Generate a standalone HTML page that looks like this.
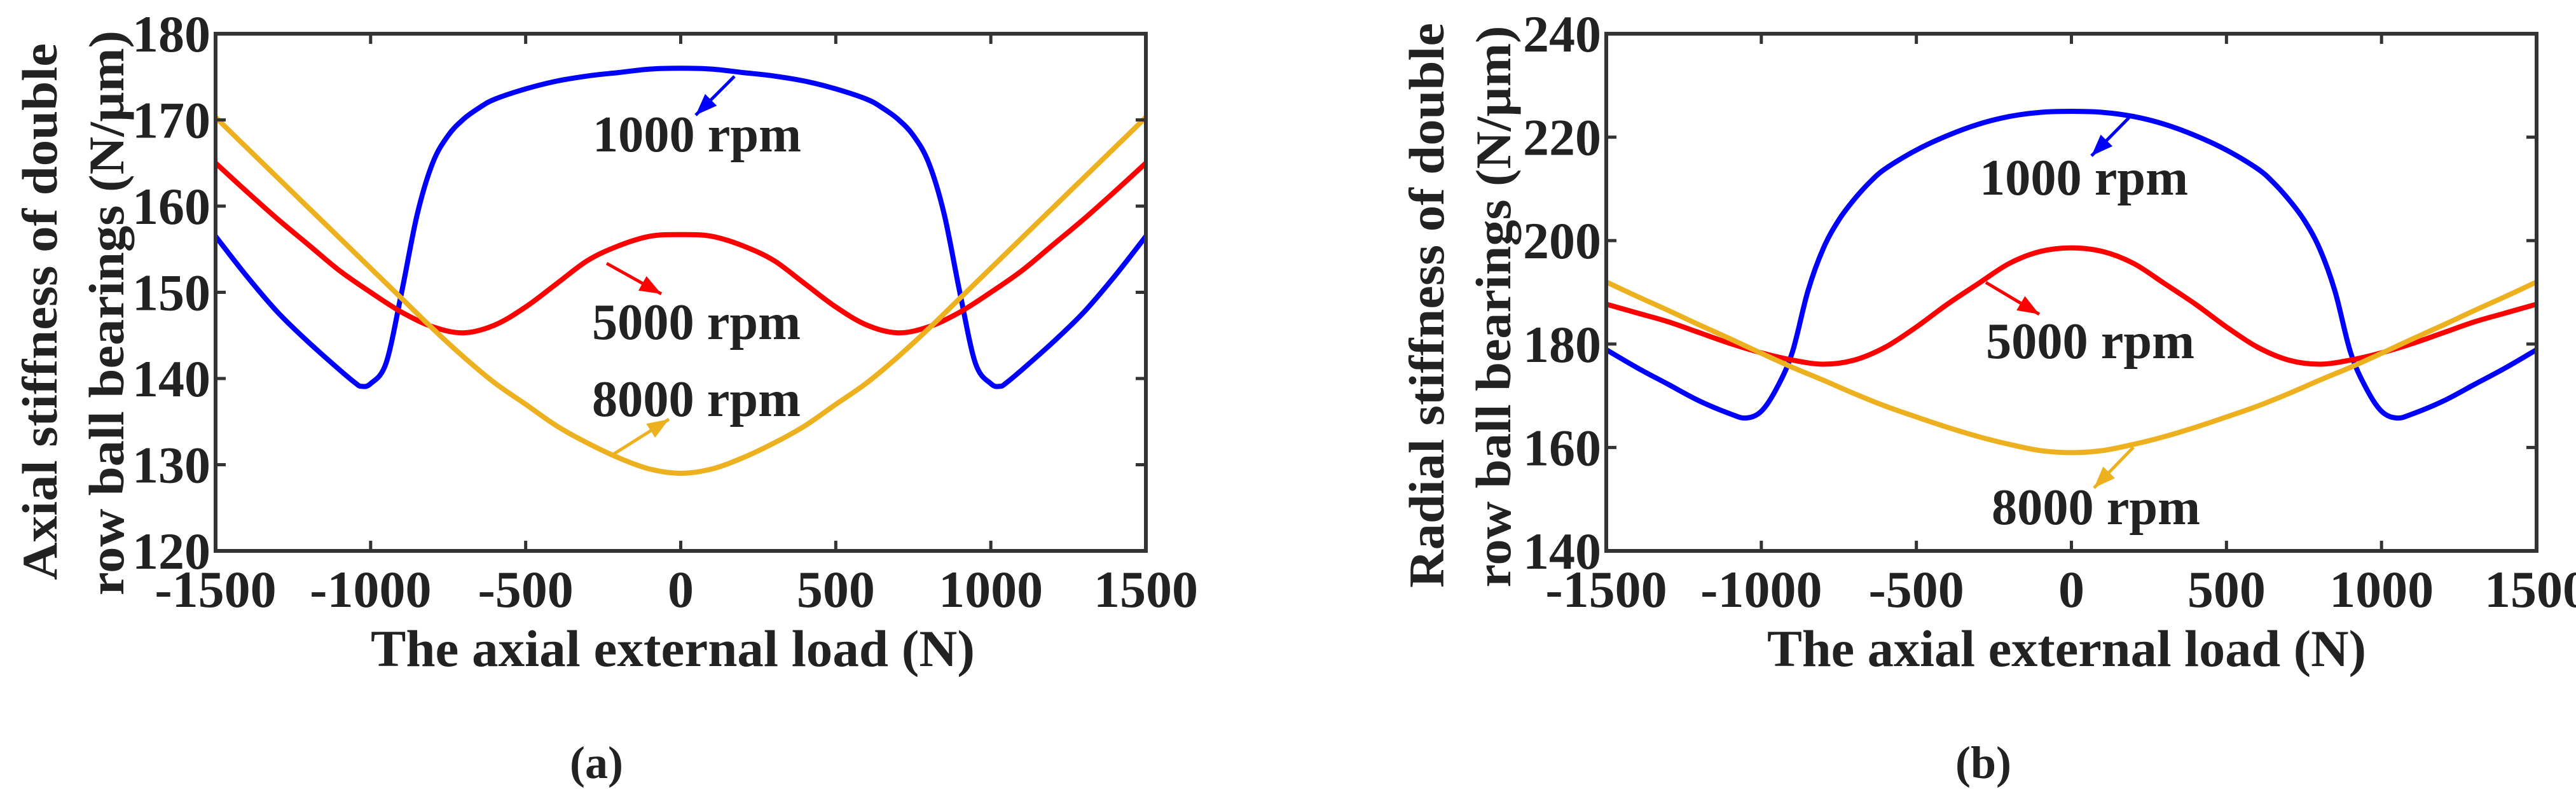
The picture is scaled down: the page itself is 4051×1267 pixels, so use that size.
<!DOCTYPE html>
<html><head><meta charset="utf-8"><style>
html,body{margin:0;padding:0;background:#fff;}
svg text{font-family:"Liberation Serif",serif;font-weight:bold;fill:#222;}
</style></head><body>
<svg id="fig" width="4051" height="1262" viewBox="0 0 4051 1262" xmlns="http://www.w3.org/2000/svg">
<rect x="0" y="0" width="4051" height="1262" fill="#fff"/>
<g id="panelA"></g>
<g id="panelB"></g>
</svg>
<script>
// ---------- data ----------
const xTicks = [-1500,-1000,-500,0,500,1000,1500];
const yTicksA = [120,130,140,150,160,170,180];
const yTicksB = [140,160,180,200,220,240];

const xBlueA = [-1500,-1400,-1300,-1200,-1100,-1050,-1030,-1000,-950,-900,-850,-800,-750,-700,-650,-600,-500,-400,-300,-200,-100,0,100,200,300,400,500,600,650,700,750,800,850,900,950,1000,1030,1050,1100,1200,1300,1400,1500];
const yBlueA = [156.5,151.9,147.7,144.2,141,139.5,139.1,139.4,141.8,150,159,165,168.2,170.1,171.4,172.4,173.6,174.5,175.1,175.5,175.9,176,175.9,175.5,175.1,174.5,173.6,172.4,171.4,170.1,168.2,165,159,150,141.8,139.4,139.1,139.5,141,144.2,147.7,151.9,156.5];
const xRedA = [-1500,-1400,-1300,-1200,-1100,-1000,-900,-800,-700,-600,-500,-400,-300,-200,-100,0,100,200,300,400,500,600,700,800,900,1000,1100,1200,1300,1400,1500];
const yRedA = [165,161.7,158.5,155.5,152.5,150,147.7,146,145.3,146.2,148.3,151,153.7,155.4,156.5,156.7,156.5,155.4,153.7,151,148.3,146.2,145.3,146,147.7,150,152.5,155.5,158.5,161.7,165];
const xYelA = xRedA;
const yYelA = [170.3,166.8,163.3,159.8,156.3,152.8,149.3,145.8,142.5,139.5,137,134.5,132.5,130.8,129.5,129,129.5,130.8,132.5,134.5,137,139.5,142.5,145.8,149.3,152.8,156.3,159.8,163.3,166.8,170.3];

const xBlueB = [-1500,-1400,-1300,-1200,-1100,-1050,-1000,-950,-900,-850,-800,-750,-700,-650,-600,-500,-400,-300,-200,-100,0,100,200,300,400,500,600,650,700,750,800,850,900,950,1000,1050,1100,1200,1300,1400,1500];
const yBlueB = [178.9,175.4,172.2,169,166.5,165.7,167,171.5,178.4,190.2,198.5,204,208,211.3,213.9,217.5,220.3,222.5,224,224.8,225,224.8,224,222.5,220.3,217.5,213.9,211.3,208,204,198.5,190.2,178.4,171.5,167,165.7,166.5,169,172.2,175.4,178.9];
const xRedB = xRedA;
const yRedB = [187.7,186,184.3,182.2,180.1,178.3,176.9,176.1,176.9,179.4,183.3,187.7,191.7,195.6,197.9,198.6,197.9,195.6,191.7,187.7,183.3,179.4,176.9,176.1,176.9,178.3,180.1,182.2,184.3,186,187.7];
const xYelB = xRedA;
const yYelB = [192,189.2,186.5,183.7,181,178.2,175.5,173,170.4,168,165.9,163.9,162.1,160.6,159.4,159,159.4,160.6,162.1,163.9,165.9,168,170.4,173,175.5,178.2,181,183.7,186.5,189.2,192];

const labelsA = ["1000 rpm","5000 rpm","8000 rpm"];
const labelsB = ["1000 rpm","5000 rpm","8000 rpm"];

// ---------- drawing ----------
const NS="http://www.w3.org/2000/svg";
function mk(tag, attrs, parent){const e=document.createElementNS(NS,tag);for(const k in attrs)e.setAttribute(k,attrs[k]);parent.appendChild(e);return e;}
function smoothPath(pts){
  let d="M"+pts[0][0].toFixed(1)+","+pts[0][1].toFixed(1);
  for(let i=0;i<pts.length-1;i++){
    const p0=pts[i-1]||pts[i],p1=pts[i],p2=pts[i+1],p3=pts[i+2]||p2;
    const c1=[p1[0]+(p2[0]-p0[0])/6,p1[1]+(p2[1]-p0[1])/6];
    const c2=[p2[0]-(p3[0]-p1[0])/6,p2[1]-(p3[1]-p1[1])/6];
    d+="C"+c1[0].toFixed(1)+","+c1[1].toFixed(1)+" "+c2[0].toFixed(1)+","+c2[1].toFixed(1)+" "+p2[0].toFixed(1)+","+p2[1].toFixed(1);
  }
  return d;
}
function arrow(g,x1,y1,x2,y2,color){
  const ln=mk('line',{x1:x1,y1:y1,x2:x2,y2:y2,stroke:color,'stroke-width':5},g);
  
  
  const a=Math.atan2(y2-y1,x2-x1),L=34,W=13;
  const bx=x2-L*Math.cos(a),by=y2-L*Math.sin(a);
  const p=[[x2,y2],[bx+W*Math.sin(a),by-W*Math.cos(a)],[bx-W*Math.sin(a),by+W*Math.cos(a)]];
  const h=mk('polygon',{points:p.map(q=>q.join(',')).join(' '),fill:color},g);
  
  
}
function panel(g,cfg){
  const L=cfg.L,R=cfg.R,T=53,B=866;
  const sx=v=>L+(v-(-1500))/3000*(R-L);
  const sy=v=>B-(v-cfg.ymin)/(cfg.ymax-cfg.ymin)*(B-T);
  const series=[[cfg.xb,cfg.yb,'#0000ff','series-1000rpm'],[cfg.xr,cfg.yr,'#ff0000','series-5000rpm'],[cfg.xy,cfg.yy,'#edb120','series-8000rpm']];
  series.forEach(s=>{
    const pts=s[0].map((x,i)=>[sx(x),sy(s[1][i])]);
    const p=mk('path',{d:smoothPath(pts),fill:'none',stroke:s[2],'stroke-width':8,'stroke-linejoin':'round'},g);
    
    
  });
  const box=mk('rect',{x:L,y:T,width:R-L,height:B-T,fill:'none',stroke:'#333','stroke-width':6},g);
  
  
  xTicks.forEach(v=>{
    const x=sx(v);
    mk('line',{x1:x,y1:B,x2:x,y2:B-16,stroke:'#333','stroke-width':5},g);
    mk('line',{x1:x,y1:T,x2:x,y2:T+16,stroke:'#333','stroke-width':5},g);
    const t=mk('text',{x:x,y:954,'font-size':82,'text-anchor':'middle'},g);
    t.textContent=String(v);
    
    
  });
  cfg.yt.forEach(v=>{
    const y=sy(v);
    mk('line',{x1:L,y1:y,x2:L+16,y2:y,stroke:'#333','stroke-width':5},g);
    mk('line',{x1:R,y1:y,x2:R-16,y2:y,stroke:'#333','stroke-width':5},g);
    const t=mk('text',{x:L-8,y:y+28,'font-size':82,'text-anchor':'end'},g);
    t.textContent=String(v);
    
    
  });
  const xt=mk('text',{x:cfg.xtx,y:1047,'font-size':82,textLength:cfg.xtl,lengthAdjust:'spacingAndGlyphs'},g);
  xt.textContent="The axial external load (N)";
  
  
  cfg.yl.forEach((l,i)=>{
    const t=mk('text',{x:0,y:0,'font-size':78,'text-anchor':'middle',textLength:l[3],lengthAdjust:'spacingAndGlyphs',transform:`translate(${l[1]+28},${l[2]}) rotate(-90)`},g);
    t.textContent=l[0];
    
    
  });
  const cols=['#0000ff','#ff0000','#edb120'];
  cfg.ann.forEach((a,i)=>{
    arrow(g,a[2],a[3],a[4],a[5],cols[i]);
    const t=mk('text',{x:a[0],y:a[1],'font-size':80,fill:'#000',textLength:328,lengthAdjust:'spacingAndGlyphs'},g);
    t.textContent=cfg.labels[i];
    
    
  });
  const c=mk('text',{x:cfg.capx,y:1223,'font-size':72,'text-anchor':'middle','font-weight':'normal'},g);
  c.innerHTML='(<tspan font-weight="bold">'+cfg.cap+'</tspan>)';
  
  
}
panel(document.getElementById('panelA'),{L:339,R:1802,ymin:120,ymax:180,yt:yTicksA,
  xb:xBlueA,yb:yBlueA,xr:xRedA,yr:yRedA,xy:xYelA,yy:yYelA,xtx:583,xtl:950,
  yl:[["Axial stiffness of double",61,490,844],["row ball bearings (N/\u00b5m)",166,492,888]],
  labels:labelsA,
  ann:[[932,238,1155,120,1094,181],[931,533,954,414,1040,462],[931,654,963,715,1052,659]],
  capx:938,cap:'a'});
panel(document.getElementById('panelB'),{L:2526,R:3989,ymin:140,ymax:240,yt:yTicksB,
  xb:xBlueB,yb:yBlueB,xr:xRedB,yr:yRedB,xy:xYelB,yy:yYelB,xtx:2779,xtl:942,
  yl:[["Radial stiffness of double",2242,480,888],["row ball bearings (N/\u00b5m)",2347,482,883]],
  labels:labelsB,
  ann:[[3113,306,3348,185,3289,245],[3123,563,3123,444,3207,494],[3132,824,3355,703,3293,767]],
  capx:3119,cap:'b'});
</script>
</body></html>
